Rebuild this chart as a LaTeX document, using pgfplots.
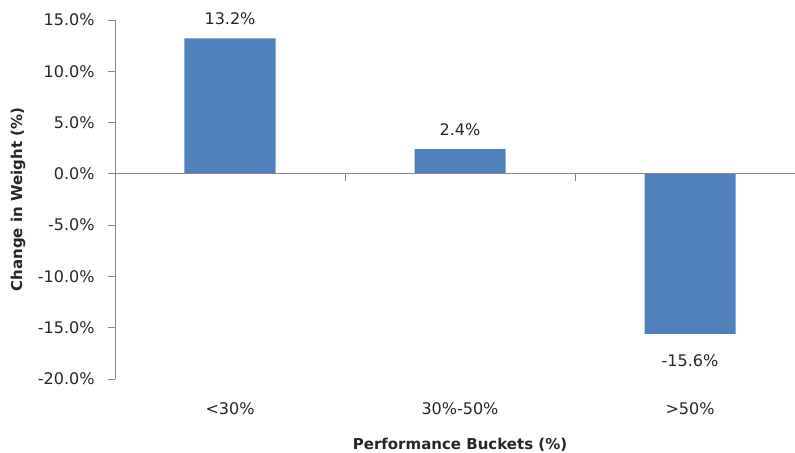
\documentclass[border=0pt]{standalone}
\usepackage{pgfplots}
\pgfplotsset{compat=1.18}
\usepackage{fontspec}
\setmainfont{DejaVu Sans}
\definecolor{barblue}{HTML}{4F81BD}
\definecolor{axgray}{HTML}{868686}
\definecolor{txt}{HTML}{262626}

\begin{document}
\begin{tikzpicture}
  \begin{axis}[
      scale only axis,
      width=690bp, height=359bp,
      xmin=-0.5, xmax=2.5,
      ymin=-20, ymax=15,
      ybar, bar width=91bp,
      axis lines*=left,
      x axis line style={draw=none},
      y axis line style={axgray, line width=0.8pt},
      xtick={0,1,2},
      xticklabels={{<30\%},{30\%-50\%},{>50\%}},
      major x tick style={draw=none},
      xticklabel style={yshift=-13bp},
      ytick={-20,-15,...,15},
      tick align=outside,
      major tick length=7bp,
      major y tick style={axgray, line width=0.8pt},
      yticklabel={\pgfmathprintnumber[fixed,fixed zerofill,precision=1]{\tick}\%},
      /pgf/number format/assume math mode=true,
      yticklabel style={xshift=-10bp},
      tick label style={font=\fontsize{16bp}{19bp}\selectfont, text=txt},
      xlabel={Performance Buckets (\%)},
      ylabel={Change in Weight (\%)},
      label style={font=\fontsize{15bp}{18bp}\selectfont\bfseries, text=txt},
      xlabel style={at={(axis description cs:0.5,0)}, anchor=center, yshift=-66bp},
      ylabel style={at={(axis description cs:0,0.5)}, anchor=center, yshift=97bp},
      nodes near coords={\pgfmathprintnumber[fixed,fixed zerofill,precision=1]{\pgfplotspointmeta}\%},
      visualization depends on={y \as \rawy},
      every node near coord/.append style={font=\fontsize{16bp}{19bp}\selectfont, text=txt,
        yshift={10-27*(\rawy<0)}},
      clip=false,
    ]
    \addplot[fill=barblue, draw=none] coordinates {
      (0,13.2) (1,2.4) (2,-15.6)
    };
    \draw[axgray, line width=0.8pt] (axis cs:-0.5,0) -- (axis cs:2.5,0);
    \draw[axgray, line width=0.8pt] (axis cs:0.5,0) -- ([yshift=-7bp]axis cs:0.5,0);
    \draw[axgray, line width=0.8pt] (axis cs:1.5,0) -- ([yshift=-7bp]axis cs:1.5,0);
  \end{axis}
  \pgfresetboundingbox
  \path[use as bounding box] (current axis.south west) ++(-115bp,-74bp) rectangle ++(795bp,453bp);
\end{tikzpicture}
\end{document}
